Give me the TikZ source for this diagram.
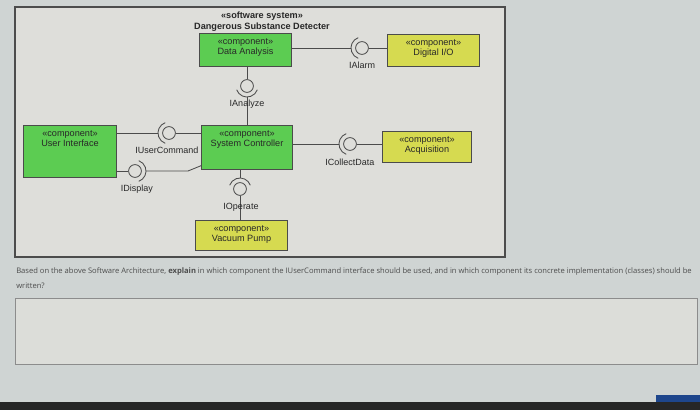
\documentclass[tikz,border=0pt]{standalone}
\usepackage{fontspec}
\setmainfont{Liberation Sans}
\newfontfamily\qfont{Open Sans}
\usetikzlibrary{positioning, calc}
\usepackage{xcolor}
\definecolor{screenbg}{RGB}{207,212,211}
\definecolor{framebg}{RGB}{222,222,218}
\definecolor{compgreen}{RGB}{92,204,82}
\definecolor{compyellow}{RGB}{214,218,80}
\definecolor{inkgray}{RGB}{40,40,40}
\definecolor{linegray}{RGB}{75,75,75}
\definecolor{ansbg}{RGB}{220,221,217}
\definecolor{barblue}{RGB}{30,70,140}

\begin{document}
\begin{tikzpicture}[
    x=0.025cm, y=-0.025cm,
    comp/.style={draw=linegray, line width=0.7pt, inner sep=0pt},
    gcomp/.style={comp, fill=compgreen},
    ycomp/.style={comp, fill=compyellow},
    ctext/.style={anchor=north, align=center, inner sep=2pt, yshift=-0.07cm,
                  font=\fontsize{6.5}{7.4}\selectfont, text=inkgray},
    ball/.style={circle, draw=linegray, line width=0.6pt, minimum size=0.32cm, inner sep=0pt},
    sock/.style={draw=linegray, line width=0.6pt},
    conn/.style={draw=linegray, line width=0.6pt},
    iface/.style={font=\fontsize{6.4}{7.5}\selectfont, text=inkgray, inner sep=1pt},
    title/.style={align=center, font=\fontsize{6.5}{7.8}\selectfont\bfseries, text=inkgray},
    qtext/.style={align=left, anchor=north west, inner sep=0pt,
                  font=\qfont\fontsize{5.4}{10.6}\selectfont, text=black!70}
  ]
  \useasboundingbox (0,0) rectangle (700,410);
  \fill[screenbg] (0,0) rectangle (700,410);
  % Diagram frame
  \draw[fill=framebg, draw=black!70, line width=0.8pt] (15,7) rectangle (505,257);
  \node[title] (sysname) at (262,21.5) {«software system»\\Dangerous Substance Detecter};
  % Components
  \node[gcomp, minimum width=2.275cm, minimum height=0.825cm,
        label={[ctext]north:{«component»\\Data Analysis}}] (da) at (245.5,49.5) {};
  \node[ycomp, minimum width=2.275cm, minimum height=0.8cm,
        label={[ctext]north:{«component»\\Digital I/O}}] (dio) at (433.5,50) {};
  \node[gcomp, minimum width=2.3cm, minimum height=1.3cm,
        label={[ctext]north:{«component»\\User Interface}}] (ui) at (70,151) {};
  \node[gcomp, minimum width=2.25cm, minimum height=1.1cm,
        label={[ctext]north:{«component»\\System Controller}}] (sc) at (247,147) {};
  \node[ycomp, minimum width=2.2cm, minimum height=0.775cm,
        label={[ctext]north:{«component»\\Acquisition}}] (acq) at (427,146.5) {};
  \node[ycomp, minimum width=2.275cm, minimum height=0.75cm,
        label={[ctext]north:{«component»\\Vacuum Pump}}] (vp) at (241.5,235) {};
  % IAlarm
  \node[ball] (alarmB) at (362,48) {};
  \coordinate (alarmS) at ([xshift=-0.275cm]alarmB.center);
  \draw[sock] ([shift={(110:0.275cm)}]alarmB.center) arc[start angle=110, end angle=250, radius=0.275cm];
  \draw[conn] (da.east |- alarmB) -- (alarmS);
  \draw[conn] (alarmB) -- (dio.west |- alarmB);
  \node[iface] (alarmL) at (362,65) {IAlarm};
  % IAnalyze
  \node[ball] (anaB) at (247,86) {};
  \coordinate (anaS) at ([yshift=-0.275cm]anaB.center);
  \draw[sock] ([shift={(200:0.275cm)}]anaB.center) arc[start angle=200, end angle=340, radius=0.275cm];
  \draw[conn] (da.south -| anaB) -- (anaB);
  \draw[conn] (anaS) -- (sc.north -| anaB);
  \node[iface] (anaL) at (247,104) {IAnalyze};
  % IUserCommand
  \node[ball] (ucB) at (169,133) {};
  \coordinate (ucS) at ([xshift=-0.275cm]ucB.center);
  \draw[sock] ([shift={(110:0.275cm)}]ucB.center) arc[start angle=110, end angle=250, radius=0.275cm];
  \draw[conn] (ui.east |- ucB) -- (ucS);
  \draw[conn] (ucB) -- (sc.west |- ucB);
  \node[iface] (ucL) at (167,150) {IUserCommand};
  % IDisplay
  \node[ball] (dispB) at (135,171) {};
  \coordinate (dispS) at ([xshift=0.275cm]dispB.center);
  \coordinate (dispK) at (188,171);
  \coordinate (dispE) at ([yshift=0.1cm]sc.south west);
  \draw[sock] ([shift={(-70:0.275cm)}]dispB.center) arc[start angle=-70, end angle=70, radius=0.275cm];
  \draw[conn] (ui.east |- dispB) -- (dispB);
  \draw[conn] (dispS) -- (dispK) -- (dispE);
  \node[iface] (dispL) at (137,189) {IDisplay};
  % IOperate
  \node[ball] (opB) at (240,189) {};
  \coordinate (opS) at ([yshift=0.275cm]opB.center);
  \draw[sock] ([shift={(20:0.275cm)}]opB.center) arc[start angle=20, end angle=160, radius=0.275cm];
  \draw[conn] (sc.south -| opB) -- (opS);
  \draw[conn] (opB) -- (vp.north -| opB);
  \node[iface] (opL) at (241,207) {IOperate};
  % ICollectData
  \node[ball] (cdB) at (350,144) {};
  \coordinate (cdS) at ([xshift=-0.275cm]cdB.center);
  \draw[sock] ([shift={(110:0.275cm)}]cdB.center) arc[start angle=110, end angle=250, radius=0.275cm];
  \draw[conn] (sc.east |- cdB) -- (cdS);
  \draw[conn] (cdB) -- (acq.west |- cdB);
  \node[iface] (cdL) at (350,162) {ICollectData};
  % Question and answer box
  \node[qtext] (question) at (16,267) {Based on the above Software Architecture, \textbf{explain} in which component the IUserCommand interface should be used, and in which component its concrete implementation (classes) should be\\written?};
  \draw[fill=ansbg, draw=black!45, line width=0.6pt] (15,298) rectangle (697,364);
  % Screen bottom
  \fill[black!85] (0,402) rectangle (700,410);
  \fill[barblue] (656,395) rectangle (700,402);
\end{tikzpicture}
\end{document}
